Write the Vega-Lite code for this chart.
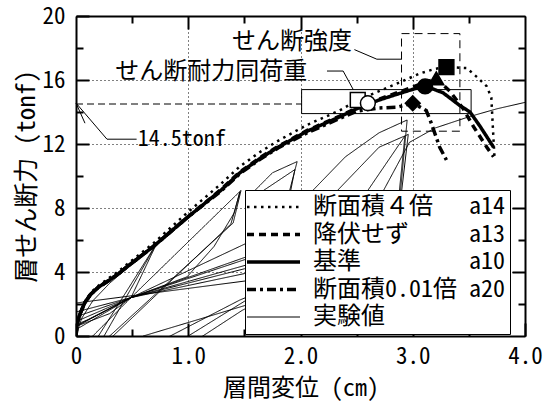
{
  "$schema": "https://vega.github.io/schema/vega-lite/v6.json",
  "width": 449,
  "height": 320,
  "autosize": "none",
  "padding": {"left": 76, "top": 16, "right": 27, "bottom": 67},
  "background": "white",
  "config": {
    "view": {"stroke": null},
    "axis": {
      "tickColor": "black", "domainColor": "black", "labelColor": "black", "titleColor": "black",
      "titleFontWeight": "normal", "labelFont": "Noto Sans Mono CJK JP, Noto Sans CJK JP",
      "titleFont": "Noto Sans Mono CJK JP, Noto Sans CJK JP", "tickWidth": 2, "domainWidth": 2
    }
  },
  "datasets": {
    "exp": [
      {"series":"実験値","order":1,"x":0,"y":0},{"series":"実験値","order":2,"x":0.05,"y":1.1},{"series":"実験値","order":3,"x":0.15,"y":2.2},{"series":"実験値","order":4,"x":0.3,"y":3.3},{"series":"実験値","order":5,"x":0.5,"y":4.5},{"series":"実験値","order":6,"x":0.72,"y":5.8},
      {"series":"実験値","order":7,"x":0.2,"y":0},{"series":"実験値","order":8,"x":-0.72,"y":-5.8},{"series":"実験値","order":9,"x":-0.2,"y":-0.6},{"series":"実験値","order":10,"x":0,"y":1.2},{"series":"実験値","order":11,"x":0.49,"y":2.4},{"series":"実験値","order":12,"x":0.72,"y":5.8},
      {"series":"実験値","order":13,"x":0.25,"y":0},{"series":"実験値","order":14,"x":-0.75,"y":-6},{"series":"実験値","order":15,"x":-0.2,"y":-0.4},{"series":"実験値","order":16,"x":0,"y":0.9},{"series":"実験値","order":17,"x":0.49,"y":2.4},{"series":"実験値","order":18,"x":1.47,"y":9.1},
      {"series":"実験値","order":19,"x":1.4,"y":7.06},{"series":"実験値","order":20,"x":0.3,"y":0},{"series":"実験値","order":21,"x":-1.47,"y":-9.1},{"series":"実験値","order":22,"x":-0.3,"y":-0.6},{"series":"実験値","order":23,"x":0,"y":1.5},{"series":"実験値","order":24,"x":0.49,"y":2.4},
      {"series":"実験値","order":25,"x":0.99,"y":3.7},{"series":"実験値","order":26,"x":1.23,"y":5.6},{"series":"実験値","order":27,"x":1.41,"y":7.7},{"series":"実験値","order":28,"x":1.46,"y":9.0},{"series":"実験値","order":29,"x":1.38,"y":7.0},{"series":"実験値","order":30,"x":0.33,"y":0},
      {"series":"実験値","order":31,"x":-1.5,"y":-9.5},{"series":"実験値","order":32,"x":-0.3,"y":-0.5},{"series":"実験値","order":33,"x":0,"y":2.06},{"series":"実験値","order":34,"x":1.52,"y":3.45},{"series":"実験値","order":35,"x":1.58,"y":9.0},{"series":"実験値","order":36,"x":1.75,"y":10.2},
      {"series":"実験値","order":37,"x":1.97,"y":10.9},{"series":"実験値","order":38,"x":1.9,"y":9.0},{"series":"実験値","order":39,"x":1.62,"y":5.2},{"series":"実験値","order":40,"x":0.49,"y":2.4},{"series":"実験値","order":41,"x":0.15,"y":0},{"series":"実験値","order":42,"x":-1.97,"y":-10.9},
      {"series":"実験値","order":43,"x":-0.4,"y":-0.8},{"series":"実験値","order":44,"x":0,"y":0.6},{"series":"実験値","order":45,"x":0.49,"y":2.4},{"series":"実験値","order":46,"x":1.58,"y":6.0},{"series":"実験値","order":47,"x":1.65,"y":9.0},{"series":"実験値","order":48,"x":1.95,"y":10.4},
      {"series":"実験値","order":49,"x":1.91,"y":9.0},{"series":"実験値","order":50,"x":1.55,"y":2.0},{"series":"実験値","order":51,"x":0.6,"y":0},{"series":"実験値","order":52,"x":-2.0,"y":-11},{"series":"実験値","order":53,"x":-0.5,"y":-1},{"series":"実験値","order":54,"x":0,"y":0.4},
      {"series":"実験値","order":55,"x":0.49,"y":2.4},{"series":"実験値","order":56,"x":1.6,"y":5.0},{"series":"実験値","order":57,"x":2.0,"y":8.5},{"series":"実験値","order":58,"x":2.11,"y":9.1},{"series":"実験値","order":59,"x":2.4,"y":11.2},{"series":"実験値","order":60,"x":2.7,"y":12.7},
      {"series":"実験値","order":61,"x":2.95,"y":13.5},{"series":"実験値","order":62,"x":2.89,"y":9.0},{"series":"実験値","order":63,"x":2.0,"y":3.5},{"series":"実験値","order":64,"x":1.48,"y":1.6},{"series":"実験値","order":65,"x":1.13,"y":0},{"series":"実験値","order":66,"x":-2.95,"y":-13},
      {"series":"実験値","order":67,"x":-0.6,"y":-1},{"series":"実験値","order":68,"x":0.3,"y":1.4},{"series":"実験値","order":69,"x":0.49,"y":2.4},{"series":"実験値","order":70,"x":1.6,"y":4.6},{"series":"実験値","order":71,"x":2.2,"y":8.0},{"series":"実験値","order":72,"x":2.33,"y":9.1},
      {"series":"実験値","order":73,"x":2.7,"y":11.8},{"series":"実験値","order":74,"x":2.96,"y":12.6},{"series":"実験値","order":75,"x":2.9,"y":9.0},{"series":"実験値","order":76,"x":2.0,"y":3.8},{"series":"実験値","order":77,"x":1.46,"y":2.25},{"series":"実験値","order":78,"x":0.84,"y":0},
      {"series":"実験値","order":79,"x":-3,"y":-12},{"series":"実験値","order":80,"x":-0.6,"y":-1},{"series":"実験値","order":81,"x":0.05,"y":0.8},{"series":"実験値","order":82,"x":0.49,"y":2.4},{"series":"実験値","order":83,"x":1.5,"y":4.2},{"series":"実験値","order":84,"x":2.4,"y":7.5},
      {"series":"実験値","order":85,"x":2.6,"y":9.1},{"series":"実験値","order":86,"x":2.93,"y":12.5},{"series":"実験値","order":87,"x":2.88,"y":9.0},{"series":"実験値","order":88,"x":1.6,"y":2.6},{"series":"実験値","order":89,"x":1.0,"y":0},{"series":"実験値","order":90,"x":-3,"y":-12},
      {"series":"実験値","order":91,"x":-0.6,"y":-1},{"series":"実験値","order":92,"x":0.1,"y":1.0},{"series":"実験値","order":93,"x":0.49,"y":2.4},{"series":"実験値","order":94,"x":1.5,"y":3.9},{"series":"実験値","order":95,"x":2.5,"y":7.5},{"series":"実験値","order":96,"x":2.74,"y":9.1},
      {"series":"実験値","order":97,"x":2.97,"y":12.1},{"series":"実験値","order":98,"x":3.2,"y":13.0},{"series":"実験値","order":99,"x":3.5,"y":13.7},{"series":"実験値","order":100,"x":3.75,"y":14.2},{"series":"実験値","order":101,"x":4.0,"y":14.6},{"series":"実験値","order":102,"x":4.2,"y":14.9}
    ],
    "ana": [
      {"series":"基準","order":1,"x":0,"y":0},{"series":"基準","order":2,"x":0.01,"y":0.8},{"series":"基準","order":3,"x":0.04,"y":1.45},{"series":"基準","order":4,"x":0.08,"y":2.1},{"series":"基準","order":5,"x":0.13,"y":2.6},{"series":"基準","order":5.5,"x":0.2,"y":3.05},{"series":"基準","order":6,"x":0.3,"y":3.5},{"series":"基準","order":6.5,"x":0.38,"y":3.9},
      {"series":"基準","order":7,"x":0.45,"y":4.3},{"series":"基準","order":8,"x":0.69,"y":5.6},{"series":"基準","order":9,"x":0.99,"y":7.4},{"series":"基準","order":10,"x":1.29,"y":9.1},{"series":"基準","order":11,"x":1.46,"y":10.2},{"series":"基準","order":12,"x":1.64,"y":11.1},
      {"series":"基準","order":13,"x":1.8,"y":11.8},{"series":"基準","order":14,"x":2.06,"y":12.8},{"series":"基準","order":15,"x":2.35,"y":13.7},{"series":"基準","order":16,"x":2.5,"y":14.2},{"series":"基準","order":17,"x":2.7,"y":14.75},{"series":"基準","order":18,"x":2.9,"y":15.2},
      {"series":"基準","order":19,"x":3.04,"y":15.5},{"series":"基準","order":20,"x":3.12,"y":15.6},{"series":"基準","order":21,"x":3.27,"y":15.2},{"series":"基準","order":22,"x":3.42,"y":14.4},{"series":"基準","order":23,"x":3.51,"y":14.0},{"series":"基準","order":24,"x":3.6,"y":13.1},{"series":"基準","order":25,"x":3.72,"y":11.8},

      {"series":"降伏せず","order":1,"x":0,"y":0},{"series":"降伏せず","order":2,"x":0.01,"y":0.8},{"series":"降伏せず","order":3,"x":0.04,"y":1.45},{"series":"降伏せず","order":4,"x":0.08,"y":2.1},{"series":"降伏せず","order":5,"x":0.13,"y":2.6},{"series":"降伏せず","order":5.5,"x":0.2,"y":3.05},{"series":"降伏せず","order":6,"x":0.3,"y":3.5},{"series":"降伏せず","order":6.5,"x":0.38,"y":3.9},
      {"series":"降伏せず","order":7,"x":0.45,"y":4.3},{"series":"降伏せず","order":8,"x":0.69,"y":5.6},{"series":"降伏せず","order":9,"x":0.99,"y":7.4},{"series":"降伏せず","order":10,"x":1.29,"y":9.15},{"series":"降伏せず","order":11,"x":1.46,"y":10.25},{"series":"降伏せず","order":12,"x":1.64,"y":11.15},
      {"series":"降伏せず","order":13,"x":1.8,"y":11.85},{"series":"降伏せず","order":14,"x":2.06,"y":12.85},{"series":"降伏せず","order":15,"x":2.35,"y":13.75},{"series":"降伏せず","order":16,"x":2.5,"y":14.25},{"series":"降伏せず","order":17,"x":2.7,"y":14.8},{"series":"降伏せず","order":18,"x":2.9,"y":15.3},
      {"series":"降伏せず","order":19,"x":3.05,"y":15.7},{"series":"降伏せず","order":20,"x":3.21,"y":16.1},{"series":"降伏せず","order":21,"x":3.33,"y":15.3},{"series":"降伏せず","order":22,"x":3.45,"y":14.2},{"series":"降伏せず","order":23,"x":3.54,"y":13.1},{"series":"降伏せず","order":24,"x":3.66,"y":11.8},{"series":"降伏せず","order":25,"x":3.72,"y":11.2},

      {"series":"断面積0.01倍","order":1,"x":0,"y":0},{"series":"断面積0.01倍","order":2,"x":0.01,"y":0.8},{"series":"断面積0.01倍","order":3,"x":0.04,"y":1.45},{"series":"断面積0.01倍","order":4,"x":0.08,"y":2.1},{"series":"断面積0.01倍","order":5,"x":0.13,"y":2.6},{"series":"断面積0.01倍","order":5.5,"x":0.2,"y":3.05},{"series":"断面積0.01倍","order":6,"x":0.3,"y":3.5},{"series":"断面積0.01倍","order":6.5,"x":0.38,"y":3.9},
      {"series":"断面積0.01倍","order":7,"x":0.45,"y":4.3},{"series":"断面積0.01倍","order":8,"x":0.69,"y":5.6},{"series":"断面積0.01倍","order":9,"x":0.99,"y":7.4},{"series":"断面積0.01倍","order":10,"x":1.29,"y":9.05},{"series":"断面積0.01倍","order":11,"x":1.46,"y":10.15},{"series":"断面積0.01倍","order":12,"x":1.64,"y":11.05},
      {"series":"断面積0.01倍","order":13,"x":1.8,"y":11.75},{"series":"断面積0.01倍","order":14,"x":2.06,"y":12.7},{"series":"断面積0.01倍","order":15,"x":2.35,"y":13.6},{"series":"断面積0.01倍","order":16,"x":2.5,"y":14.05},{"series":"断面積0.01倍","order":17,"x":2.7,"y":14.25},{"series":"断面積0.01倍","order":18,"x":2.86,"y":14.3},
      {"series":"断面積0.01倍","order":19,"x":3.0,"y":14.55},{"series":"断面積0.01倍","order":20,"x":3.12,"y":14.1},{"series":"断面積0.01倍","order":21,"x":3.16,"y":13.4},{"series":"断面積0.01倍","order":22,"x":3.24,"y":11.8},{"series":"断面積0.01倍","order":23,"x":3.3,"y":11.0},

      {"series":"断面積４倍","order":1,"x":0,"y":0},{"series":"断面積４倍","order":2,"x":0.01,"y":0.8},{"series":"断面積４倍","order":3,"x":0.04,"y":1.5},{"series":"断面積４倍","order":4,"x":0.08,"y":2.15},{"series":"断面積４倍","order":5,"x":0.13,"y":2.7},{"series":"断面積４倍","order":5.5,"x":0.2,"y":3.15},{"series":"断面積４倍","order":6,"x":0.3,"y":3.65},{"series":"断面積４倍","order":6.5,"x":0.38,"y":4.05},
      {"series":"断面積４倍","order":7,"x":0.45,"y":4.45},{"series":"断面積４倍","order":8,"x":0.69,"y":5.8},{"series":"断面積４倍","order":9,"x":0.99,"y":7.7},{"series":"断面積４倍","order":10,"x":1.29,"y":9.5},{"series":"断面積４倍","order":11,"x":1.46,"y":10.6},{"series":"断面積４倍","order":12,"x":1.64,"y":11.5},
      {"series":"断面積４倍","order":13,"x":1.8,"y":12.2},{"series":"断面積４倍","order":14,"x":2.06,"y":13.2},{"series":"断面積４倍","order":15,"x":2.35,"y":14.1},{"series":"断面積４倍","order":16,"x":2.51,"y":14.75},{"series":"断面積４倍","order":17,"x":2.7,"y":15.3},{"series":"断面積４倍","order":18,"x":2.9,"y":15.9},
      {"series":"断面積４倍","order":19,"x":3.06,"y":16.4},{"series":"断面積４倍","order":20,"x":3.2,"y":16.7},{"series":"断面積４倍","order":21,"x":3.3,"y":16.8},{"series":"断面積４倍","order":22,"x":3.48,"y":16.75},{"series":"断面積４倍","order":23,"x":3.57,"y":16.2},{"series":"断面積４倍","order":24,"x":3.66,"y":15.6},
      {"series":"断面積４倍","order":25,"x":3.7,"y":14.9},{"series":"断面積４倍","order":26,"x":3.72,"y":12.2},{"series":"断面積４倍","order":27,"x":3.73,"y":11.0}
    ],
    "boxSolid": [{"x":2.01,"x2":3.52,"y":13.9,"y2":15.4}],
    "boxDashed": [{"x":2.9,"x2":3.42,"y":12.8,"y2":18.9}],
    "markers": [
      {"x":2.51,"y":14.75,"symbol":"square","style":"open"},
      {"x":2.6,"y":14.55,"symbol":"circle","style":"open"},
      {"x":3.0,"y":14.55,"symbol":"diamond","style":"filled"},
      {"x":3.11,"y":15.6,"symbol":"circle","style":"filled"},
      {"x":3.21,"y":16.1,"symbol":"triangle-up","style":"filled"},
      {"x":3.3,"y":16.8,"symbol":"square","style":"filled"}
    ],
    "leaders": [
      {"id":"t145","order":1,"x":0,"y":14.56},{"id":"t145","order":2,"x":0.276,"y":12.3},{"id":"t145","order":3,"x":0.54,"y":12.3},
      {"id":"arrow","order":1,"x":0,"y":14.56},{"id":"arrow","order":2,"x":0.08,"y":13.3},
      {"id":"kyodo","order":1,"x":2.48,"y":17.9},{"id":"kyodo","order":2,"x":2.68,"y":17.3},{"id":"kyodo","order":3,"x":2.9,"y":17.3},
      {"id":"dokaju","order":1,"x":2.236,"y":16.56},{"id":"dokaju","order":2,"x":2.38,"y":16.56},{"id":"dokaju","order":3,"x":2.47,"y":15.4}
    ],
    "notes": [
      {"x":1.39,"y":18.4,"label":"せん断強度"},
      {"x":0.35,"y":16.5,"label":"せん断耐力同荷重"}
    ],
    "refNote": [{"x":0.55,"y":12.3,"label":"14.5tonf"}],
    "refLine": [{"x":0,"x2":2.01,"y":14.5}]
  },
  "layer": [
    {
      "data": {"name": "exp"},
      "mark": {"type": "line", "color": "black", "strokeWidth": 1, "clip": true},
      "encoding": {
        "x": {"field": "x", "type": "quantitative", "scale": {"domain": [0, 4], "nice": false, "zero": false},
          "axis": {"orient": "bottom", "values": [0, 1, 2, 3, 4], "labelExpr": "datum.value == 0 ? '0' : format(datum.value, '.1f')",
            "title": "層間変位 (cm)", "grid": true, "gridDash": [1, 3], "gridColor": "black", "gridOpacity": 1, "gridWidth": 1,
            "tickSize": -13, "labelPadding": 22, "labelFlush": false, "labelFontSize": 23, "titleFontSize": 24, "titlePadding": 8, "zindex": 1}},
        "y": {"field": "y", "type": "quantitative", "scale": {"domain": [0, 20], "nice": false, "zero": false},
          "axis": {"orient": "left", "values": [0, 4, 8, 12, 16, 20], "format": "d",
            "title": "層せん断力 (tonf)", "grid": true, "gridDash": [1, 3], "gridColor": "black", "gridOpacity": 1, "gridWidth": 1,
            "tickSize": -13, "labelPadding": 24, "labelFlush": false, "labelFontSize": 23, "titleFontSize": 25, "titlePadding": 3, "zindex": 1}},
        "order": {"field": "order", "type": "quantitative"},
        "strokeDash": {"field": "series", "type": "nominal",
          "scale": {"domain": ["断面積４倍", "降伏せず", "基準", "断面積0.01倍", "実験値"], "range": [[2.5, 4.5], [7, 5], [1, 0], [9, 4, 3, 4], [1, 0]]},
          "legend": {
            "title": null, "orient": "none", "legendX": 169, "legendY": 174,
            "strokeColor": "black", "fillColor": "white", "padding": 5, "cornerRadius": 0,
            "symbolType": "M-1.5,0H3.8", "symbolSize": 400, "symbolStrokeColor": "black", "symbolFillColor": "transparent", "symbolStrokeWidth": 3,
            "labelFont": "Noto Sans Mono CJK JP, Noto Sans CJK JP", "labelFontSize": 24, "labelColor": "black", "labelOffset": 39, "labelLimit": 400,
            "rowPadding": 3.5, "zindex": 5,
            "labelExpr": "datum.label == '断面積４倍' ? '断面積４倍　 a14' : datum.label == '降伏せず' ? '降伏せず　　 a13' : datum.label == '基準' ? '基準　　　　 a10' : datum.label == '断面積0.01倍' ? '断面積0.01倍 a20' : datum.label",
            "encode": {"symbols": {"update": {"strokeWidth": {"signal": "datum.value === '実験値' ? 1 : datum.value === '断面積４倍' ? 2.5 : 3.5"}}}}
          }}
      }
    },
    {
      "data": {"name": "ana"},
      "mark": {"type": "line", "color": "black", "clip": true},
      "encoding": {
        "x": {"field": "x", "type": "quantitative",
          "axis": {"orient": "bottom", "values": [0.5, 1.5, 2.5, 3.5], "labels": false, "domain": false, "grid": false, "tickSize": -7, "title": null}},
        "y": {"field": "y", "type": "quantitative",
          "axis": {"orient": "left", "values": [2, 6, 10, 14, 18], "labels": false, "domain": false, "grid": false, "tickSize": -7, "title": null}},
        "order": {"field": "order", "type": "quantitative"},
        "strokeDash": {"field": "series", "type": "nominal"},
        "strokeWidth": {"condition": {"test": "datum.series === '断面積４倍'", "value": 2.5}, "value": 3.5}
      }
    },
    {
      "data": {"name": "boxSolid"},
      "mark": {"type": "rect", "filled": false, "color": "black", "strokeWidth": 1},
      "encoding": {
        "x": {"field": "x", "type": "quantitative",
          "axis": {"orient": "top", "values": [1, 2, 3], "labels": false, "grid": false, "tickSize": -13, "title": null}},
        "x2": {"field": "x2"},
        "y": {"field": "y", "type": "quantitative",
          "axis": {"orient": "right", "values": [4, 8, 12, 16], "labels": false, "grid": false, "tickSize": -13, "title": null}},
        "y2": {"field": "y2"}
      }
    },
    {
      "data": {"name": "boxDashed"},
      "mark": {"type": "rect", "filled": false, "color": "black", "strokeWidth": 1, "strokeDash": [8, 5]},
      "encoding": {
        "x": {"field": "x", "type": "quantitative",
          "axis": {"orient": "top", "values": [0.5, 1.5, 2.5, 3.5], "labels": false, "domain": false, "grid": false, "tickSize": -7, "title": null}},
        "x2": {"field": "x2"},
        "y": {"field": "y", "type": "quantitative",
          "axis": {"orient": "right", "values": [2, 6, 10, 14, 18], "labels": false, "domain": false, "grid": false, "tickSize": -7, "title": null}},
        "y2": {"field": "y2"}
      }
    },
    {
      "data": {"name": "refLine"},
      "mark": {"type": "rule", "color": "black", "strokeWidth": 1, "strokeDash": [7, 4]},
      "encoding": {
        "x": {"field": "x", "type": "quantitative", "axis": null},
        "x2": {"field": "x2"},
        "y": {"field": "y", "type": "quantitative", "axis": null}
      }
    },
    {
      "data": {"name": "leaders"},
      "mark": {"type": "line", "color": "black", "strokeWidth": 1},
      "encoding": {
        "x": {"field": "x", "type": "quantitative", "axis": null},
        "y": {"field": "y", "type": "quantitative", "axis": null},
        "detail": {"field": "id"},
        "order": {"field": "order", "type": "quantitative"}
      }
    },
    {
      "data": {"name": "notes"},
      "mark": {"type": "text", "align": "left", "baseline": "middle", "font": "Noto Sans CJK JP", "fontSize": 24, "color": "black"},
      "encoding": {
        "x": {"field": "x", "type": "quantitative", "axis": null},
        "y": {"field": "y", "type": "quantitative", "axis": null},
        "text": {"field": "label"}
      }
    },
    {
      "data": {"name": "refNote"},
      "mark": {"type": "text", "align": "left", "baseline": "middle", "font": "Noto Sans Mono CJK JP, DejaVu Sans Mono", "fontSize": 22, "color": "black"},
      "encoding": {
        "x": {"field": "x", "type": "quantitative", "axis": null},
        "y": {"field": "y", "type": "quantitative", "axis": null},
        "text": {"field": "label"}
      }
    },
    {
      "data": {"name": "markers"},
      "mark": {"type": "point", "filled": true, "stroke": "black", "strokeWidth": 1.5, "size": 220, "opacity": 1},
      "encoding": {
        "x": {"field": "x", "type": "quantitative", "axis": null},
        "y": {"field": "y", "type": "quantitative", "axis": null},
        "shape": {"field": "symbol", "type": "nominal", "scale": {"domain": ["square", "circle", "diamond", "triangle-up"], "range": ["square", "circle", "diamond", "triangle-up"]}, "legend": null},
        "fill": {"field": "style", "type": "nominal", "scale": {"domain": ["open", "filled"], "range": ["white", "black"]}, "legend": null}
      }
    }
  ],
  "resolve": {"axis": {"x": "independent", "y": "independent"}}
}
